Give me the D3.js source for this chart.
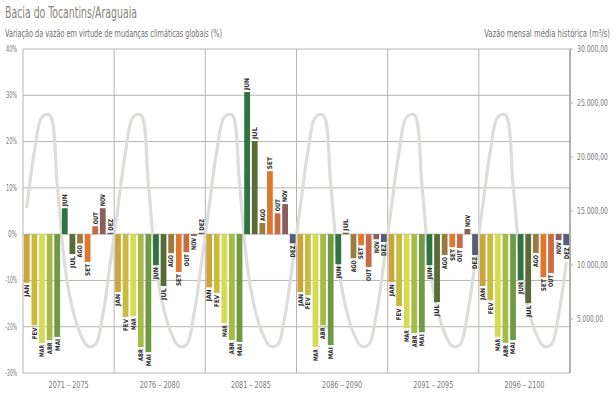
<!DOCTYPE html>
<html><head><meta charset="utf-8">
<script src="https://cdn.jsdelivr.net/npm/d3@7"></script>
<style>
body{margin:0;background:#fff;}
svg text{font-family:"DejaVu Sans Condensed","DejaVu Sans",sans-serif;}
</style></head><body>
<svg id="chart" width="616" height="403"></svg>
<script>
const periods = ["2071 – 2075","2076 – 2080","2081 – 2085","2086 – 2090","2091 – 2095","2096 – 2100"];
const months = ["JAN","FEV","MAR","ABR","MAI","JUN","JUL","AGO","SET","OUT","NOV","DEZ"];
const monthColors = ["#c9a53b","#c8bb3f","#d5db55","#a4bc46","#6e9a43","#2f7340","#5a6c36","#9b7b40","#df782d","#c76b45","#8b5e5c","#5a5b7c"];
const var2071 = [-10.5,-19.7,-23.5,-22.9,-22.2,5.6,-4.3,-2.0,-6.0,1.7,5.6,0.3];
const var2076 = [-12.5,-17.9,-17.7,-24.4,-25.5,-6.7,-11.2,-4.1,-8.2,-3.9,-0.4,0.3];
const var2081 = [-11.5,-12.7,-19.2,-22.9,-23.3,30.7,20.1,2.4,13.6,4.5,6.5,-2.0];
const var2086 = [-12.5,-13.2,-24.4,-19.7,-24.0,-6.5,0.3,-5.2,-2.4,-7.1,-1.1,-1.7];
const var2091 = [-10.4,-15.6,-20.3,-21.4,-21.2,-6.7,-14.7,-4.5,-2.8,-3.0,1.1,-4.5];
const var2096 = [-11.2,-14.3,-22.2,-23.5,-22.9,-9.9,-14.9,-4.1,-9.3,-8.4,-1.3,-2.4];
const variation = [var2071,var2076,var2081,var2086,var2091,var2096];
const historicalFlow = [15400,20500,23700,23900,17500,10000,6000,3700,2500,2600,5400,10200];
const leftTicks = [40,30,20,10,0,-10,-20,-30];
const rightTicks = [5000,10000,15000,20000,25000,30000];

const L=23, R=570, T=49, B=373;
const svg = d3.select("#chart");
const y = d3.scaleLinear().domain([-30,40]).range([B,T]);
const yR = d3.scaleLinear().domain([0,30000]).range([B,T]);
const xP = d3.scaleBand().domain(periods).range([L,R]);
const xM = d3.scaleBand().domain(months).range([0,xP.bandwidth()]).paddingInner(0.24).paddingOuter(0.12);
const grid = "#b4b4b0";

// title & subtitles
svg.append("text").attr("x",5).attr("y",18).attr("font-size",16).attr("fill","#85857a")
  .attr("textLength",132).attr("lengthAdjust","spacingAndGlyphs").text("Bacia do Tocantins/Araguaia");
svg.append("text").attr("x",5).attr("y",37).attr("font-size",10).attr("fill","#707070")
  .attr("textLength",217).attr("lengthAdjust","spacingAndGlyphs").text("Variação da vazão em virtude de mudanças climáticas globais (%)");
const rtitle = svg.append("text").attr("font-size",10).attr("fill","#707070").attr("text-anchor","end")
  .text("Vazão mensal média histórica (m³/s)");
const rw = rtitle.node().getComputedTextLength();
rtitle.attr("transform",`translate(610,37) scale(${126/rw},1)`);

// horizontal grid
svg.append("g").selectAll("line").data(leftTicks).join("line")
  .attr("x1",L).attr("x2",R).attr("y1",d=>y(d)).attr("y2",d=>y(d))
  .attr("stroke",grid).attr("stroke-width",1);
// vertical panel separators
svg.append("g").selectAll("line").data(periods).join("line")
  .attr("x1",d=>xP(d)).attr("x2",d=>xP(d)).attr("y1",T).attr("y2",B)
  .attr("stroke",grid).attr("stroke-width",1);

// left tick labels
svg.append("g").selectAll("text").data(leftTicks).join("text")
  .attr("x",17).attr("y",d=>y(d)).attr("dy","0.35em").attr("text-anchor","end")
  .attr("font-size",8).attr("fill","#777")
  .attr("textLength",d=>d===0?9:(d<0?11.5:11)).attr("lengthAdjust","spacingAndGlyphs")
  .text(d=>d+"%");

// right axis
const fmt = d3.formatLocale({decimal:",",thousands:".",grouping:[3],currency:["",""]}).format(",.2f");
svg.append("line").attr("x1",R).attr("x2",R).attr("y1",T).attr("y2",B).attr("stroke","#b0b0ac").attr("stroke-width",2);
svg.append("g").selectAll("line").data(rightTicks).join("line")
  .attr("x1",R).attr("x2",R+3).attr("y1",d=>yR(d)).attr("y2",d=>yR(d)).attr("stroke","#b0b0ac").attr("stroke-width",1);
svg.append("g").selectAll("text").data(rightTicks).join("text")
  .attr("x",577).attr("y",d=>yR(d)).attr("dy","0.35em").attr("font-size",8.5).attr("fill","#777")
  .attr("textLength",d=>d>=10000?31:26).attr("lengthAdjust","spacingAndGlyphs")
  .text(d=>fmt(d));

// historical flow line
const linePts = [];
periods.forEach(p=>months.forEach((m,i)=>linePts.push({x:xP(p)+xM(m)+xM.bandwidth()/2, v:historicalFlow[i]})));
svg.append("path").datum(linePts)
  .attr("d", d3.line().x(d=>d.x).y(d=>yR(d.v)).curve(d3.curveCatmullRom.alpha(0.5)))
  .attr("fill","none").attr("stroke","#dddddb").attr("stroke-width",3.2).attr("stroke-linecap","round");

// bars
const barData = [];
periods.forEach((p,pi)=>months.forEach((m,i)=>barData.push({p,m,i,v:variation[pi][i]})));
const gb = svg.append("g");
gb.selectAll("rect").data(barData).join("rect")
  .attr("x",d=>xP(d.p)+xM(d.m)).attr("width",xM.bandwidth())
  .attr("y",d=>y(Math.max(0,d.v))).attr("height",d=>Math.abs(y(d.v)-y(0)))
  .attr("fill",d=>monthColors[d.i]);
gb.selectAll("text").data(barData).join("text")
  .attr("transform",d=>{
    const cx = xP(d.p)+xM(d.m)+xM.bandwidth()/2;
    const yy = d.v>=0 ? y(d.v)-2 : y(d.v)+2;
    return `translate(${cx},${yy}) rotate(-90)`;})
  .attr("text-anchor",d=>d.v>=0?"start":"end")
  .attr("dy","0.36em").attr("font-size",6.5).attr("font-weight","bold").attr("fill","#2e2e2e")
  .attr("textLength",12).attr("lengthAdjust","spacingAndGlyphs")
  .text(d=>d.m);

// bottom period labels
svg.append("g").selectAll("text").data(periods).join("text")
  .attr("x",d=>xP(d)+xP.bandwidth()/2).attr("y",388).attr("text-anchor","middle")
  .attr("font-size",8.5).attr("fill","#777")
  .attr("textLength",40).attr("lengthAdjust","spacingAndGlyphs")
  .text(d=>d);
</script>
</body></html>
